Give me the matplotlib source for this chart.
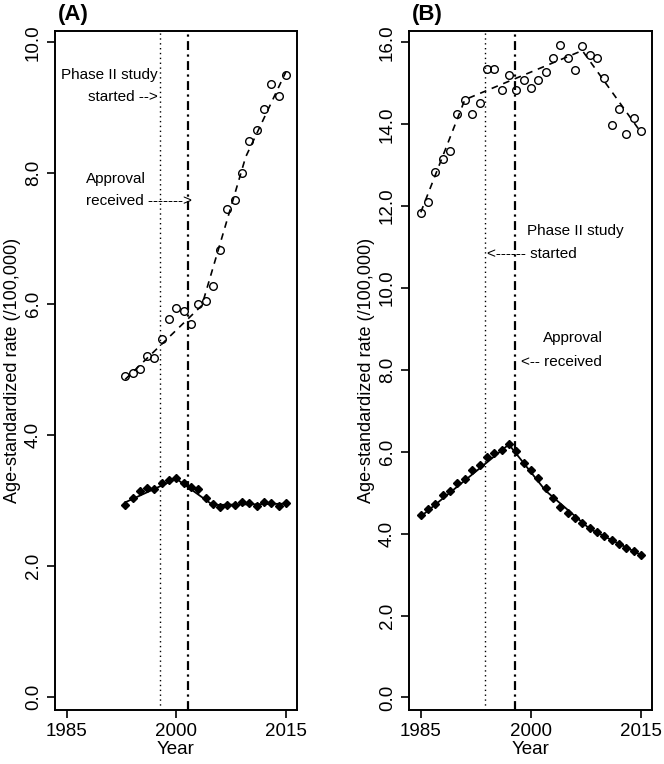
import matplotlib.pyplot as plt
import numpy as np

plt.rcParams['font.family'] = ['Liberation Sans', 'DejaVu Sans']

# Panel A: observed rates (open circles) and joinpoint fit (dashed)
years_a = list(range(1993, 2016))
upper_a = [4.90, 4.95, 5.01, 5.20, 5.18, 5.46, 5.78, 5.94, 5.89, 5.69, 6.00, 6.05,
           6.27, 6.82, 7.45, 7.59, 8.00, 8.49, 8.66, 8.99, 9.37, 9.18, 9.51]
lower_a = [2.93, 3.03, 3.14, 3.19, 3.18, 3.26, 3.31, 3.34, 3.26, 3.20, 3.18, 3.03,
           2.94, 2.90, 2.93, 2.93, 2.98, 2.96, 2.91, 2.97, 2.96, 2.92, 2.96]
fit_up_a_x = [1993, 2003.5, 2009.5, 2015]
fit_up_a_y = [4.85, 5.98, 8.25, 9.55]
fit_lo_a_x = [1993, 2000, 2005, 2015]
fit_lo_a_y = [2.97, 3.33, 2.93, 2.95]
phase2_a, approval_a = 1997.7, 2001.6

# Panel B
years_b = list(range(1985, 2016))
upper_b = [11.84, 12.09, 12.84, 13.14, 13.35, 14.24, 14.60, 14.25, 14.53, 15.35, 15.36,
           14.84, 15.21, 14.84, 15.09, 14.88, 15.07, 15.28, 15.63, 15.94, 15.63, 15.32,
           15.92, 15.68, 15.63, 15.12, 13.97, 14.38, 13.76, 14.15, 13.84]
lower_b = [4.45, 4.60, 4.72, 4.95, 5.05, 5.25, 5.33, 5.55, 5.68, 5.88, 5.97, 6.05,
           6.20, 6.02, 5.72, 5.55, 5.35, 5.12, 4.88, 4.65, 4.50, 4.38, 4.25, 4.15,
           4.05, 3.95, 3.85, 3.75, 3.65, 3.58, 3.48]
fit_up_b_x = [1985, 1991, 2007, 2015]
fit_up_b_y = [11.85, 14.60, 15.80, 13.80]
fit_lo_b_x = [1985, 1997, 2002, 2008, 2015]
fit_lo_b_y = [4.42, 6.18, 5.05, 4.12, 3.48]
phase2_b, approval_b = 1993.7, 1997.9


def panel(ax, years, upper, lower, fup, flo, vlines, ylim, yticks, tag):
    ax.plot(fup[0], fup[1], color='black', lw=1.2, ls=(0, (4, 3.5)))
    ax.plot(years, upper, 'o', mfc='none', mec='black', ms=5.5, mew=1.0)
    ax.plot(flo[0], flo[1], color='black', lw=1.3)
    ax.plot(years, lower, 'D', color='black', ms=4.5)
    ax.axvline(vlines[0], color='black', lw=1.0, ls=(0, (1, 2.5)))
    ax.axvline(vlines[1], color='black', lw=1.6, ls=(0, (4, 2, 1, 2)))
    ax.set_xlim(1983.4, 2016.5)
    ax.set_ylim(*ylim)
    ax.set_xticks([1985, 2000, 2015])
    ax.set_yticks(yticks)
    ax.set_yticklabels(['%.1f' % v for v in yticks], rotation=90, va='center')
    ax.tick_params(direction='out', length=6, width=1.2, labelsize=13.5)
    for s in ax.spines.values():
        s.set_linewidth(1.4)
    ax.set_xlabel('Year', fontsize=13.5, labelpad=1)
    ax.set_ylabel('Age-standardized rate (/100,000)', fontsize=13, labelpad=3)
    ax.text(0.01, 1.01, tag, transform=ax.transAxes, fontsize=16,
            fontweight='bold', ha='left', va='bottom')


fig = plt.figure(figsize=(6.64, 7.64), dpi=100)
ax_a = fig.add_axes([0.083, 0.071, 0.364, 0.888])
ax_b = fig.add_axes([0.616, 0.071, 0.366, 0.888])

panel(ax_a, years_a, upper_a, lower_a, (fit_up_a_x, fit_up_a_y),
      (fit_lo_a_x, fit_lo_a_y), (phase2_a, approval_a),
      (-0.2, 10.17), [0, 2, 4, 6, 8, 10], '(A)')
panel(ax_b, years_b, upper_b, lower_b, (fit_up_b_x, fit_up_b_y),
      (fit_lo_b_x, fit_lo_b_y), (phase2_b, approval_b),
      (-0.3, 16.27), [0, 2, 4, 6, 8, 10, 12, 14, 16], '(B)')

fs = 11
ax_a.text(1997.4, 9.51, 'Phase II study', fontsize=fs, ha='right', va='center')
ax_a.text(1997.4, 9.16, 'started -->', fontsize=fs, ha='right', va='center')
ax_a.text(1987.6, 7.91, 'Approval', fontsize=fs, ha='left', va='center')
ax_a.text(1987.6, 7.57, 'received ------->', fontsize=fs, ha='left', va='center')

ax_b.text(1999.5, 11.40, 'Phase II study', fontsize=fs, ha='left', va='center')
ax_b.text(1994.0, 10.83, '<------ started', fontsize=fs, ha='left', va='center')
ax_b.text(2001.7, 8.78, 'Approval', fontsize=fs, ha='left', va='center')
ax_b.text(1998.7, 8.19, '<-- received', fontsize=fs, ha='left', va='center')

fig.savefig('out.png', dpi=100)
